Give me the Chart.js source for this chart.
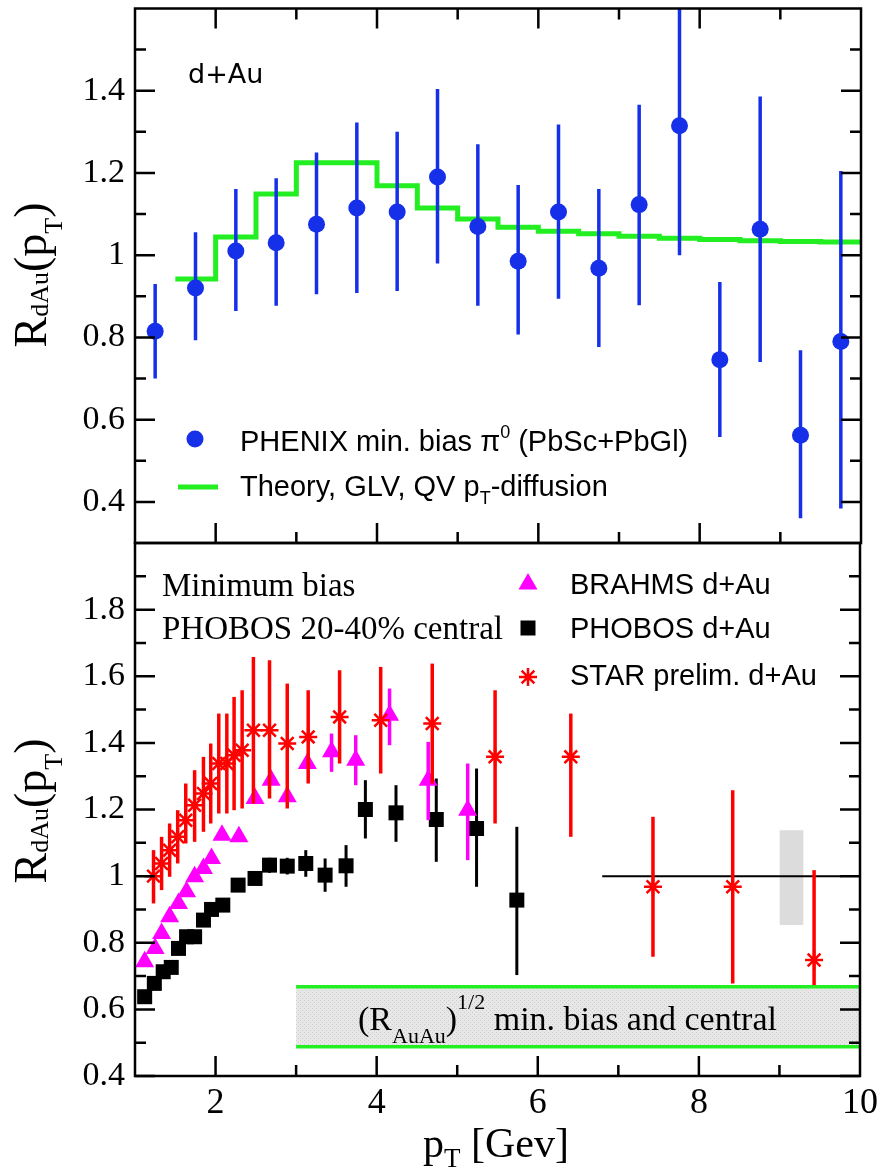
<!DOCTYPE html>
<html>
<head>
<meta charset="utf-8">
<script src="https://cdn.jsdelivr.net/npm/chart.js@4.4.0/dist/chart.umd.min.js"></script>
<style>
  body { margin: 0; background: #fff; }
  #wrap { position: relative; width: 884px; height: 1173px; }
  canvas { position: absolute; left: 0; top: 0; }
</style>
</head>
<body>
<div id="wrap">
  <canvas id="topChart" width="884" height="1173"></canvas>
  <canvas id="bottomChart" width="884" height="1173"></canvas>
</div>
<script>
// ---- top panel: PHENIX pi0 + theory ----
const phenixX  = [1.25, 1.75, 2.25, 2.75, 3.25, 3.75, 4.25, 4.75, 5.25, 5.75, 6.25, 6.75, 7.25, 7.75, 8.25, 8.75, 9.25, 9.75];
const phenixY  = [0.815, 0.92, 1.01, 1.03, 1.075, 1.115, 1.105, 1.19, 1.07, 0.985, 1.105, 0.968, 1.123, 1.315, 0.746, 1.063, 0.562, 0.79];
const phenixHi = [0.93, 1.056, 1.161, 1.187, 1.25, 1.323, 1.30, 1.404, 1.27, 1.171, 1.318, 1.161, 1.366, 1.62, 0.935, 1.386, 0.769, 1.205];
const phenixLo = [0.70, 0.793, 0.864, 0.877, 0.905, 0.908, 0.913, 0.98, 0.877, 0.807, 0.894, 0.777, 0.878, 1.0, 0.558, 0.74, 0.36, 0.384];

// bin edges of the step curve (last point closes the last bin)
const theoryX = [1.5, 2, 2.5, 3, 3.5, 4, 4.5, 5, 5.5, 6, 6.5, 7, 7.5, 8, 8.5, 9, 9.5, 10];
const theoryY = [0.942, 1.044, 1.149, 1.225, 1.225, 1.169, 1.115, 1.088, 1.068, 1.058, 1.052, 1.046, 1.041, 1.038, 1.035, 1.033, 1.032, 1.032];

// ---- bottom panel ----
const starX  = [1.23, 1.33, 1.43, 1.53, 1.63, 1.74, 1.85, 1.94, 2.04, 2.14, 2.23, 2.33, 2.47, 2.67, 2.89, 3.15, 3.54, 4.05, 4.69, 5.47, 6.41, 7.43, 8.42, 9.43];
const starY  = [1.0, 1.038, 1.078, 1.118, 1.168, 1.213, 1.248, 1.278, 1.338, 1.338, 1.363, 1.378, 1.438, 1.438, 1.398, 1.418, 1.478, 1.468, 1.458, 1.358, 1.358, 0.968, 0.968, 0.748];
const starHi = [1.078, 1.118, 1.158, 1.198, 1.278, 1.318, 1.358, 1.398, 1.488, 1.488, 1.538, 1.558, 1.658, 1.648, 1.578, 1.558, 1.618, 1.628, 1.638, 1.558, 1.488, 1.178, 1.258, 1.018];
const starLo = [0.918, 0.958, 0.998, 1.038, 1.098, 1.103, 1.133, 1.158, 1.188, 1.188, 1.198, 1.203, 1.218, 1.233, 1.203, 1.278, 1.338, 1.308, 1.278, 1.158, 1.118, 0.758, 0.678, 0.673];

const brahmsX  = [1.12, 1.25, 1.33, 1.43, 1.54, 1.64, 1.74, 1.85, 1.95, 2.08, 2.29, 2.49, 2.69, 2.89, 3.14, 3.44, 3.74, 4.16, 4.64, 5.13];
const brahmsY  = [0.743, 0.783, 0.828, 0.878, 0.918, 0.953, 0.998, 1.023, 1.053, 1.123, 1.118, 1.233, 1.288, 1.238, 1.338, 1.373, 1.348, 1.483, 1.288, 1.198];
const brahmsHi = [null, null, null, null, null, null, null, null, null, null, null, null, null, null, null, 1.428, 1.423, 1.563, 1.403, 1.338];
const brahmsLo = [null, null, null, null, null, null, null, null, null, null, null, null, null, null, null, 1.313, 1.273, 1.393, 1.168, 1.048];

const phobosX  = [1.12, 1.24, 1.35, 1.45, 1.54, 1.64, 1.74, 1.85, 1.95, 2.09, 2.28, 2.49, 2.67, 2.89, 3.12, 3.36, 3.62, 3.86, 4.24, 4.74, 5.24, 5.74];
const phobosY  = [0.638, 0.678, 0.713, 0.726, 0.783, 0.818, 0.818, 0.868, 0.9, 0.913, 0.973, 0.993, 1.033, 1.03, 1.038, 1.003, 1.031, 1.2, 1.19, 1.17, 1.143, 0.928];
const phobosHi = [null, null, null, null, null, null, null, null, null, null, null, null, 1.055, 1.055, 1.078, 1.053, 1.093, 1.288, 1.273, 1.293, 1.323, 1.148];
const phobosLo = [null, null, null, null, null, null, null, null, null, null, null, null, 1.01, 1.005, 0.998, 0.953, 0.968, 1.113, 1.103, 1.043, 0.968, 0.703];

const bandX  = [3, 10];
const bandHi = [0.668, 0.668];
const bandLo = [0.488, 0.488];
const sysBoxX  = [9.0, 9.3];
const sysBoxHi = [1.138, 1.138];
const sysBoxLo = [0.853, 0.853];
const refLineX = [6.8, 9.76];
const refLineY = [1, 1];

// ---- axes ----
const xTickLabels = [2, 4, 6, 8, 10];
const xMajor = [2, 4, 6, 8];
const xMinor = [3, 5, 7, 9];
const yTopTicks = [0.4, 0.6, 0.8, 1, 1.2, 1.4];
const yTopMinor = [0.5, 0.7, 0.9, 1.1, 1.3, 1.5];
const yBotTicks = [0.4, 0.6, 0.8, 1, 1.2, 1.4, 1.6, 1.8];
const yBotMinor = [0.5, 0.7, 0.9, 1.1, 1.3, 1.5, 1.7, 1.9];

const SERIF = '"Liberation Serif", "DejaVu Serif", serif';
const SANS = '"Liberation Sans", Arial, sans-serif';
const BLUE = '#1530e8';
const GREEN = '#22ee22';

function pts(xs, ys) {
  return xs.map((x, i) => ({ x: x, y: ys[i] }));
}

function fmt(v) {
  return v === 1 ? '1' : v.toFixed(1);
}

// text with sub/superscripts: parts = [text, size, dy, family]
function richText(ctx, x, y, parts, measureOnly) {
  let cx = x;
  parts.forEach(([t, size, dy, fam]) => {
    ctx.font = size + 'px ' + fam;
    if (!measureOnly) ctx.fillText(t, cx, y + dy);
    cx += ctx.measureText(t).width;
  });
  return cx - x;
}

function hatch(ctx) {
  const c = document.createElement('canvas');
  c.width = 4; c.height = 4;
  const g = c.getContext('2d');
  g.fillStyle = '#e7e7e7';
  g.fillRect(0, 0, 4, 4);
  g.fillStyle = '#cdcdcd';
  g.fillRect(0, 0, 1, 1);
  g.fillRect(2, 2, 1, 1);
  return ctx.createPattern(c, 'repeat');
}

const errorBars = {
  id: 'errorBars',
  beforeDatasetDraw(chart, args) {
    const ds = chart.data.datasets[args.index];
    if (!ds.errLo) return;
    const { ctx, chartArea: a, scales: { x, y } } = chart;
    ctx.save();
    ctx.beginPath();
    ctx.rect(a.left, a.top, a.right - a.left, a.bottom - a.top);
    ctx.clip();
    ctx.strokeStyle = ds.errColor;
    ctx.lineWidth = ds.errWidth;
    ds.data.forEach((p, i) => {
      if (ds.errLo[i] == null) return;
      const px = x.getPixelForValue(p.x);
      ctx.beginPath();
      ctx.moveTo(px, y.getPixelForValue(ds.errLo[i]));
      ctx.lineTo(px, y.getPixelForValue(ds.errHi[i]));
      ctx.stroke();
    });
    ctx.restore();
  }
};

// frame and inward ticks
function makeFrame(yMajor, yMinor, topTicks, extra) {
  return {
    id: 'frame',
    afterDraw(chart) {
      const { ctx, chartArea: a, scales: { x, y } } = chart;
      const MAJ = 20, MIN = 11;
      ctx.save();
      ctx.strokeStyle = '#000';
      ctx.lineWidth = 2.5;
      ctx.strokeRect(a.left, a.top, a.right - a.left, a.bottom - a.top);
      ctx.beginPath();
      const xt = (arr, len) => arr.forEach(v => {
        const px = x.getPixelForValue(v);
        ctx.moveTo(px, a.bottom); ctx.lineTo(px, a.bottom - len);
        if (topTicks) { ctx.moveTo(px, a.top); ctx.lineTo(px, a.top + len); }
      });
      const yt = (arr, len) => arr.forEach(v => {
        const py = y.getPixelForValue(v);
        ctx.moveTo(a.left, py); ctx.lineTo(a.left + len, py);
        ctx.moveTo(a.right, py); ctx.lineTo(a.right - len, py);
      });
      xt(xMajor, MAJ); xt(xMinor, MIN);
      yt(yMajor, MAJ); yt(yMinor, MIN);
      ctx.stroke();
      ctx.restore();
      if (extra) extra(chart);
    }
  };
}

function yTitle(ctx, cy) {
  const parts = [['R', 46, 0, SERIF], ['dAu', 26, 2, SERIF], ['(p', 46, 0, SERIF], ['T', 26, 16, SERIF], [')', 46, 0, SERIF]];
  const w = richText(ctx, 0, 0, parts, true);
  ctx.save();
  ctx.translate(46, cy + w / 2);
  ctx.rotate(-Math.PI / 2);
  ctx.fillStyle = '#000';
  ctx.textBaseline = 'alphabetic';
  richText(ctx, 0, 0, parts);
  ctx.restore();
}

function topExtras(chart) {
  const ctx = chart.ctx;
  ctx.save();
  ctx.fillStyle = '#000';
  ctx.textBaseline = 'alphabetic';
  ctx.font = '27px "DejaVu Sans", sans-serif';
  ctx.fillText('d+Au', 188, 83);
  // legend
  ctx.fillStyle = BLUE;
  ctx.beginPath();
  ctx.arc(195, 439, 8.5, 0, Math.PI * 2);
  ctx.fill();
  ctx.strokeStyle = GREEN;
  ctx.lineWidth = 5;
  ctx.beginPath();
  ctx.moveTo(178, 487); ctx.lineTo(218, 487);
  ctx.stroke();
  ctx.fillStyle = '#000';
  richText(ctx, 240, 451, [['PHENIX min. bias \u03c0', 29, 0, SANS], ['0', 18, -13, SANS], [' (PbSc+PbGl)', 29, 0, SANS]]);
  richText(ctx, 240, 496, [['Theory, GLV, QV p', 29, 0, SANS], ['T', 18, 8, SANS], ['-diffusion', 29, 0, SANS]]);
  yTitle(ctx, 275);
  ctx.restore();
}

function bottomExtras(chart) {
  const ctx = chart.ctx;
  const h = Chart.helpers;
  ctx.save();
  ctx.fillStyle = '#000';
  ctx.textBaseline = 'alphabetic';
  ctx.font = '33px ' + SERIF;
  ctx.fillText('Minimum bias', 162, 596);
  ctx.fillText('PHOBOS 20-40% central', 162, 639);
  ctx.font = '29px ' + SANS;
  ctx.fillText('BRAHMS d+Au', 570, 594);
  ctx.fillText('PHOBOS d+Au', 570, 638);
  ctx.fillText('STAR prelim. d+Au', 570, 685);
  ctx.fillStyle = '#ff00ff';
  h.drawPoint(ctx, { pointStyle: 'triangle', radius: 11, rotation: 0, borderWidth: 0 }, 528, 584);
  ctx.fillStyle = '#000';
  h.drawPoint(ctx, { pointStyle: 'rect', radius: 10.6, rotation: 0, borderWidth: 0 }, 528, 628);
  ctx.strokeStyle = '#ff0000';
  ctx.lineWidth = 2.5;
  h.drawPoint(ctx, { pointStyle: 'star', radius: 9, rotation: 0, borderWidth: 2.5 }, 528, 677);
  // band label
  ctx.fillStyle = '#000';
  richText(ctx, 358, 1030, [['(R', 34, 0, SERIF], ['AuAu', 22, 13, SERIF], [')', 34, 0, SERIF], ['1/2', 22, -21, SERIF], [' min. bias and central', 34, 0, SERIF]]);
  // axis titles
  richText(ctx, 423, 1157, [['p', 42, 0, SERIF], ['T', 27, 10, SERIF], [' [Gev]', 42, 0, SERIF]]);
  yTitle(ctx, 811);
  ctx.restore();
}

const yTickFont = { family: SERIF, size: 34 };

function fixY(s) {
  s.width = 135;
  s.paddingTop = 0;
  s.paddingBottom = 0;
}

new Chart(document.getElementById('topChart'), {
  type: 'scatter',
  data: {
    datasets: [
      {
        data: pts(phenixX, phenixY),
        errLo: phenixLo, errHi: phenixHi, errColor: BLUE, errWidth: 3.5,
        pointStyle: 'circle', pointRadius: 8.5, pointBackgroundColor: BLUE, pointBorderWidth: 0,
        showLine: false
      },
      {
        data: pts(theoryX, theoryY),
        showLine: true, stepped: true, borderColor: GREEN, borderWidth: 5,
        pointRadius: 0, fill: false
      }
    ]
  },
  options: {
    responsive: false,
    animation: false,
    layout: { padding: { top: 8, right: 23, bottom: 630, left: 0 } },
    plugins: { legend: { display: false }, tooltip: { enabled: false } },
    scales: {
      x: { type: 'linear', min: 1, max: 10, display: false },
      y: {
        min: 0.3, max: 1.6,
        afterBuildTicks: s => { s.ticks = yTopTicks.map(v => ({ value: v })); },
        afterFit: fixY,
        grid: { display: false, drawTicks: false },
        border: { display: false },
        ticks: { font: yTickFont, color: '#000', padding: 10, autoSkip: false, callback: v => fmt(v) }
      }
    }
  },
  plugins: [errorBars, makeFrame(yTopTicks, yTopMinor, true, topExtras)]
});

const botCtx = document.getElementById('bottomChart').getContext('2d');

new Chart(botCtx, {
  type: 'scatter',
  data: {
    datasets: [
      {
        data: pts(starX, starY),
        errLo: starLo, errHi: starHi, errColor: '#ff0000', errWidth: 3.5,
        pointStyle: 'star', pointRadius: 9, pointBorderColor: '#ff0000', pointBorderWidth: 2.5,
        showLine: false
      },
      {
        data: pts(brahmsX, brahmsY),
        errLo: brahmsLo, errHi: brahmsHi, errColor: '#ff00ff', errWidth: 3.5,
        pointStyle: 'triangle', pointRadius: 11, pointBackgroundColor: '#ff00ff', pointBorderWidth: 0,
        showLine: false
      },
      {
        data: pts(phobosX, phobosY),
        errLo: phobosLo, errHi: phobosHi, errColor: '#000', errWidth: 3,
        pointStyle: 'rect', pointRadius: 10.6, pointBackgroundColor: '#000', pointBorderWidth: 0,
        showLine: false
      },
      {
        data: pts(refLineX, refLineY),
        showLine: true, borderColor: '#000', borderWidth: 2, pointRadius: 0, fill: false
      },
      {
        data: pts(sysBoxX, sysBoxHi),
        showLine: true, borderWidth: 0, borderColor: 'rgba(0,0,0,0)', pointRadius: 0,
        fill: '+1', backgroundColor: '#dcdcdc'
      },
      {
        data: pts(sysBoxX, sysBoxLo),
        showLine: true, borderWidth: 0, borderColor: 'rgba(0,0,0,0)', pointRadius: 0, fill: false
      },
      {
        data: pts(bandX, bandHi),
        showLine: true, borderColor: GREEN, borderWidth: 3.5, pointRadius: 0,
        fill: '+1', backgroundColor: hatch(botCtx)
      },
      {
        data: pts(bandX, bandLo),
        showLine: true, borderColor: GREEN, borderWidth: 3.5, pointRadius: 0, fill: false
      }
    ]
  },
  options: {
    responsive: false,
    animation: false,
    layout: { padding: { top: 543, right: 23, bottom: 0, left: 0 } },
    plugins: {
      legend: { display: false },
      tooltip: { enabled: false },
      filler: { drawTime: 'beforeDatasetsDraw' }
    },
    scales: {
      x: {
        type: 'linear', min: 1, max: 10,
        afterBuildTicks: s => { s.ticks = xTickLabels.map(v => ({ value: v })); },
        afterFit: s => { s.height = 97; },
        grid: { display: false, drawTicks: false },
        border: { display: false },
        ticks: { font: { family: SERIF, size: 36 }, color: '#000', padding: 6, autoSkip: false, maxRotation: 0 }
      },
      y: {
        min: 0.4, max: 2.0,
        afterBuildTicks: s => { s.ticks = yBotTicks.map(v => ({ value: v })); },
        afterFit: fixY,
        grid: { display: false, drawTicks: false },
        border: { display: false },
        ticks: { font: yTickFont, color: '#000', padding: 10, autoSkip: false, callback: v => fmt(v) }
      }
    }
  },
  plugins: [errorBars, makeFrame(yBotTicks, yBotMinor, false, bottomExtras)]
});
</script>
</body>
</html>
